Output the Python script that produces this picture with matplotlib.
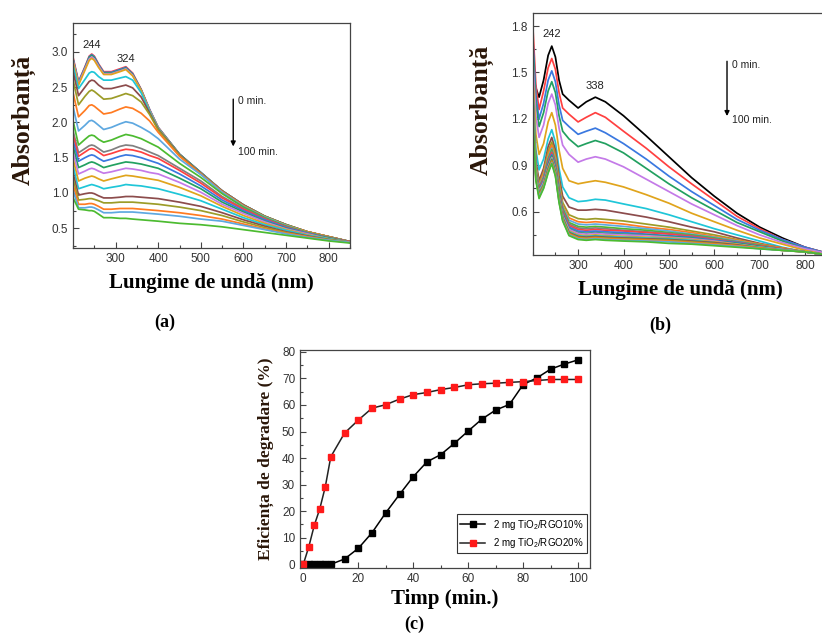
import matplotlib
matplotlib.use("Agg")
import matplotlib.pyplot as plt
from matplotlib.ticker import MultipleLocator

# ---------------- data ----------------
# Panel (a): UV-Vis spectra, 0 min (top) -> 100 min (bottom)
WL_A = [201, 213, 228, 238, 244, 250, 260, 272, 290, 310, 324, 340, 360, 380,
        400, 450, 500, 550, 600, 650, 700, 750, 800, 850]
ABS_A = [
    [2.90, 2.58, 2.79, 2.94, 2.97, 2.94, 2.83, 2.72, 2.72, 2.76, 2.79, 2.70, 2.47, 2.18, 1.93, 1.55, 1.29, 1.03, 0.83, 0.67, 0.55, 0.45, 0.38, 0.31],
    [2.88, 2.57, 2.78, 2.93, 2.96, 2.93, 2.82, 2.71, 2.71, 2.75, 2.78, 2.69, 2.46, 2.18, 1.93, 1.55, 1.29, 1.03, 0.83, 0.67, 0.55, 0.45, 0.38, 0.31],
    [2.87, 2.56, 2.77, 2.92, 2.95, 2.92, 2.81, 2.70, 2.70, 2.74, 2.77, 2.68, 2.46, 2.17, 1.92, 1.55, 1.29, 1.03, 0.83, 0.67, 0.55, 0.45, 0.38, 0.31],
    [2.86, 2.55, 2.76, 2.90, 2.93, 2.90, 2.80, 2.69, 2.69, 2.73, 2.76, 2.67, 2.45, 2.17, 1.92, 1.54, 1.28, 1.03, 0.83, 0.67, 0.55, 0.45, 0.38, 0.31],
    [2.84, 2.53, 2.74, 2.88, 2.91, 2.88, 2.78, 2.68, 2.68, 2.72, 2.75, 2.66, 2.45, 2.16, 1.92, 1.54, 1.28, 1.03, 0.83, 0.67, 0.55, 0.45, 0.38, 0.31],
    [2.78, 2.48, 2.61, 2.70, 2.72, 2.71, 2.65, 2.60, 2.60, 2.63, 2.65, 2.60, 2.42, 2.15, 1.91, 1.54, 1.28, 1.03, 0.83, 0.67, 0.55, 0.45, 0.38, 0.31],
    [2.70, 2.38, 2.50, 2.58, 2.60, 2.59, 2.53, 2.48, 2.48, 2.51, 2.53, 2.49, 2.36, 2.13, 1.90, 1.54, 1.28, 1.03, 0.83, 0.67, 0.55, 0.45, 0.38, 0.31],
    [2.58, 2.25, 2.37, 2.44, 2.46, 2.44, 2.39, 2.33, 2.34, 2.38, 2.41, 2.38, 2.29, 2.11, 1.89, 1.53, 1.27, 1.02, 0.82, 0.67, 0.55, 0.45, 0.38, 0.31],
    [2.40, 2.08, 2.17, 2.24, 2.25, 2.23, 2.18, 2.12, 2.14, 2.19, 2.22, 2.20, 2.13, 2.02, 1.86, 1.52, 1.27, 1.02, 0.82, 0.66, 0.54, 0.45, 0.38, 0.31],
    [2.20, 1.88, 1.96, 2.02, 2.03, 2.01, 1.96, 1.90, 1.93, 1.98, 2.01, 1.99, 1.93, 1.86, 1.77, 1.48, 1.26, 1.01, 0.81, 0.66, 0.54, 0.44, 0.37, 0.31],
    [2.00, 1.68, 1.76, 1.81, 1.82, 1.81, 1.76, 1.72, 1.75, 1.80, 1.83, 1.81, 1.77, 1.71, 1.65, 1.42, 1.22, 0.99, 0.80, 0.65, 0.53, 0.44, 0.37, 0.31],
    [1.86, 1.57, 1.63, 1.67, 1.68, 1.67, 1.63, 1.58, 1.61, 1.66, 1.68, 1.67, 1.63, 1.58, 1.53, 1.35, 1.17, 0.95, 0.78, 0.64, 0.52, 0.43, 0.37, 0.31],
    [1.80, 1.52, 1.58, 1.62, 1.63, 1.62, 1.58, 1.53, 1.56, 1.60, 1.62, 1.61, 1.58, 1.53, 1.49, 1.32, 1.14, 0.93, 0.77, 0.63, 0.52, 0.43, 0.36, 0.31],
    [1.72, 1.45, 1.50, 1.53, 1.54, 1.53, 1.49, 1.45, 1.48, 1.52, 1.54, 1.53, 1.50, 1.46, 1.42, 1.27, 1.10, 0.90, 0.75, 0.62, 0.51, 0.43, 0.36, 0.30],
    [1.64, 1.36, 1.40, 1.43, 1.44, 1.43, 1.40, 1.36, 1.39, 1.42, 1.44, 1.43, 1.41, 1.38, 1.35, 1.21, 1.06, 0.87, 0.73, 0.60, 0.50, 0.42, 0.36, 0.30],
    [1.56, 1.27, 1.31, 1.34, 1.35, 1.34, 1.31, 1.28, 1.30, 1.33, 1.35, 1.34, 1.32, 1.29, 1.27, 1.15, 1.01, 0.84, 0.71, 0.59, 0.49, 0.42, 0.35, 0.30],
    [1.46, 1.17, 1.21, 1.23, 1.24, 1.23, 1.20, 1.17, 1.20, 1.23, 1.25, 1.24, 1.22, 1.20, 1.18, 1.08, 0.96, 0.81, 0.68, 0.57, 0.48, 0.41, 0.35, 0.30],
    [1.36, 1.06, 1.09, 1.11, 1.12, 1.11, 1.09, 1.06, 1.08, 1.10, 1.12, 1.11, 1.10, 1.08, 1.06, 0.98, 0.89, 0.77, 0.65, 0.55, 0.47, 0.40, 0.35, 0.30],
    [1.26, 0.97, 0.99, 1.00, 1.00, 0.99, 0.96, 0.93, 0.93, 0.94, 0.95, 0.95, 0.94, 0.93, 0.92, 0.87, 0.81, 0.72, 0.62, 0.53, 0.45, 0.39, 0.34, 0.30],
    [1.18, 0.90, 0.91, 0.92, 0.92, 0.91, 0.89, 0.86, 0.86, 0.87, 0.87, 0.87, 0.86, 0.85, 0.84, 0.80, 0.75, 0.68, 0.59, 0.51, 0.44, 0.38, 0.34, 0.30],
    [1.10, 0.84, 0.84, 0.85, 0.85, 0.84, 0.81, 0.77, 0.77, 0.78, 0.78, 0.78, 0.77, 0.76, 0.75, 0.72, 0.68, 0.63, 0.56, 0.49, 0.43, 0.38, 0.33, 0.30],
    [1.02, 0.79, 0.79, 0.80, 0.80, 0.79, 0.76, 0.72, 0.72, 0.73, 0.73, 0.73, 0.72, 0.71, 0.70, 0.67, 0.63, 0.60, 0.54, 0.48, 0.42, 0.37, 0.33, 0.30],
    [0.92, 0.77, 0.76, 0.75, 0.75, 0.74, 0.70, 0.65, 0.65, 0.64, 0.64, 0.63, 0.62, 0.61, 0.60, 0.57, 0.55, 0.52, 0.48, 0.44, 0.40, 0.36, 0.32, 0.29],
]

# Panel (b)
WL_B = [201, 207, 214, 224, 234, 242, 250, 258, 266, 280, 300, 318, 338, 360,
        400, 450, 500, 550, 600, 650, 700, 750, 800, 850]
ABS_B = [
    [1.48, 1.40, 1.34, 1.45, 1.61, 1.67, 1.60, 1.45, 1.36, 1.32, 1.27, 1.31, 1.34, 1.31, 1.22, 1.09, 0.955, 0.82, 0.70, 0.59, 0.50, 0.43, 0.37, 0.33],
    [1.76, 1.42, 1.26, 1.38, 1.53, 1.59, 1.52, 1.37, 1.27, 1.23, 1.18, 1.21, 1.24, 1.21, 1.12, 1.01, 0.89, 0.78, 0.675, 0.57, 0.49, 0.42, 0.37, 0.33],
    [1.68, 1.35, 1.20, 1.30, 1.45, 1.51, 1.44, 1.29, 1.19, 1.15, 1.10, 1.12, 1.14, 1.11, 1.04, 0.94, 0.83, 0.73, 0.64, 0.55, 0.48, 0.42, 0.37, 0.33],
    [1.62, 1.30, 1.15, 1.24, 1.38, 1.44, 1.37, 1.22, 1.12, 1.07, 1.02, 1.04, 1.06, 1.04, 0.98, 0.88, 0.78, 0.69, 0.61, 0.53, 0.47, 0.41, 0.36, 0.33],
    [1.55, 1.22, 1.08, 1.16, 1.30, 1.36, 1.29, 1.14, 1.03, 0.97, 0.92, 0.94, 0.955, 0.94, 0.89, 0.81, 0.73, 0.65, 0.58, 0.51, 0.45, 0.40, 0.36, 0.33],
    [1.45, 1.10, 0.97, 1.04, 1.18, 1.24, 1.16, 1.00, 0.88, 0.80, 0.78, 0.79, 0.80, 0.79, 0.76, 0.71, 0.655, 0.59, 0.535, 0.48, 0.43, 0.39, 0.35, 0.32],
    [1.35, 1.00, 0.87, 0.94, 1.07, 1.13, 1.05, 0.88, 0.76, 0.69, 0.665, 0.67, 0.68, 0.675, 0.65, 0.62, 0.58, 0.535, 0.49, 0.45, 0.41, 0.37, 0.34, 0.32],
    [1.30, 0.93, 0.80, 0.88, 1.02, 1.08, 1.00, 0.83, 0.70, 0.63, 0.61, 0.61, 0.615, 0.61, 0.59, 0.565, 0.535, 0.50, 0.47, 0.43, 0.395, 0.365, 0.34, 0.32],
    [1.28, 0.90, 0.78, 0.86, 0.99, 1.05, 0.97, 0.80, 0.66, 0.58, 0.555, 0.55, 0.555, 0.55, 0.54, 0.52, 0.50, 0.475, 0.45, 0.42, 0.39, 0.365, 0.34, 0.32],
    [1.27, 0.89, 0.77, 0.85, 0.97, 1.03, 0.95, 0.78, 0.64, 0.56, 0.535, 0.53, 0.535, 0.53, 0.52, 0.50, 0.485, 0.465, 0.44, 0.415, 0.39, 0.365, 0.34, 0.32],
    [1.26, 0.88, 0.76, 0.83, 0.95, 1.01, 0.93, 0.76, 0.63, 0.545, 0.52, 0.515, 0.52, 0.515, 0.505, 0.49, 0.475, 0.455, 0.435, 0.41, 0.385, 0.36, 0.34, 0.32],
    [1.25, 0.87, 0.755, 0.82, 0.94, 1.00, 0.92, 0.75, 0.62, 0.53, 0.505, 0.50, 0.505, 0.50, 0.49, 0.48, 0.465, 0.45, 0.43, 0.405, 0.385, 0.36, 0.34, 0.32],
    [1.25, 0.86, 0.75, 0.81, 0.93, 0.99, 0.91, 0.74, 0.61, 0.52, 0.495, 0.49, 0.495, 0.49, 0.48, 0.47, 0.46, 0.445, 0.425, 0.405, 0.38, 0.36, 0.34, 0.32],
    [1.24, 0.86, 0.745, 0.81, 0.92, 0.98, 0.90, 0.73, 0.60, 0.51, 0.485, 0.48, 0.485, 0.48, 0.475, 0.465, 0.455, 0.44, 0.42, 0.40, 0.38, 0.36, 0.34, 0.32],
    [1.24, 0.85, 0.74, 0.80, 0.91, 0.97, 0.89, 0.72, 0.59, 0.50, 0.475, 0.47, 0.475, 0.47, 0.465, 0.455, 0.445, 0.435, 0.415, 0.40, 0.375, 0.355, 0.34, 0.32],
    [1.23, 0.85, 0.735, 0.79, 0.90, 0.96, 0.88, 0.71, 0.58, 0.49, 0.465, 0.46, 0.465, 0.46, 0.455, 0.45, 0.44, 0.43, 0.41, 0.395, 0.375, 0.355, 0.34, 0.32],
    [1.23, 0.84, 0.73, 0.79, 0.89, 0.95, 0.87, 0.70, 0.575, 0.485, 0.46, 0.455, 0.46, 0.455, 0.45, 0.445, 0.435, 0.425, 0.41, 0.39, 0.37, 0.355, 0.34, 0.32],
    [1.22, 0.84, 0.725, 0.78, 0.885, 0.945, 0.865, 0.695, 0.57, 0.475, 0.45, 0.445, 0.45, 0.445, 0.44, 0.435, 0.43, 0.42, 0.405, 0.39, 0.37, 0.355, 0.34, 0.32],
    [1.22, 0.83, 0.72, 0.78, 0.88, 0.94, 0.86, 0.69, 0.565, 0.47, 0.445, 0.44, 0.445, 0.44, 0.435, 0.43, 0.425, 0.415, 0.40, 0.385, 0.37, 0.355, 0.34, 0.32],
    [1.21, 0.83, 0.715, 0.77, 0.875, 0.935, 0.855, 0.685, 0.56, 0.465, 0.44, 0.435, 0.44, 0.435, 0.43, 0.425, 0.42, 0.41, 0.40, 0.385, 0.365, 0.35, 0.34, 0.32],
    [1.21, 0.82, 0.71, 0.77, 0.87, 0.93, 0.85, 0.68, 0.555, 0.46, 0.435, 0.43, 0.435, 0.43, 0.425, 0.42, 0.415, 0.405, 0.395, 0.38, 0.365, 0.35, 0.34, 0.32],
    [1.20, 0.81, 0.70, 0.76, 0.86, 0.92, 0.84, 0.67, 0.55, 0.455, 0.43, 0.425, 0.43, 0.425, 0.42, 0.415, 0.41, 0.40, 0.39, 0.38, 0.365, 0.35, 0.34, 0.32],
    [1.20, 0.81, 0.695, 0.755, 0.855, 0.915, 0.835, 0.665, 0.545, 0.45, 0.425, 0.42, 0.425, 0.42, 0.415, 0.41, 0.405, 0.395, 0.385, 0.375, 0.36, 0.35, 0.34, 0.32],
    [1.19, 0.80, 0.685, 0.75, 0.85, 0.91, 0.83, 0.66, 0.54, 0.445, 0.42, 0.415, 0.42, 0.415, 0.41, 0.405, 0.395, 0.39, 0.38, 0.37, 0.36, 0.35, 0.34, 0.32],
]

# Panel (c): degradation efficiency
TIME = [0, 2, 4, 6, 8, 10, 15, 20, 25, 30, 35, 40, 45, 50, 55, 60, 65, 70, 75, 80, 85, 90, 95, 100]
EFF_RGO10 = [0, 0, 0, 0, 0, 0, 2.0, 6.0, 11.9, 19.4, 26.3, 33.0, 38.6, 41.3, 45.6,
             50.2, 54.7, 58.1, 60.2, 67.7, 70.2, 73.5, 75.4, 77.0]
EFF_RGO20 = [0, 6.6, 14.7, 20.9, 29.2, 40.5, 49.4, 54.3, 58.8, 60.1, 62.2, 63.9, 64.7,
             65.8, 66.6, 67.6, 68.0, 68.2, 68.5, 68.8, 69.2, 69.6, 69.6, 69.6]
LABELS_C = ["2 mg TiO$_2$/RGO10%", "2 mg TiO$_2$/RGO20%"]

# ---------------- style ----------------
CYCLE = ['#ff4040', '#3a78e0', '#22a060', '#c47ae8', '#e0a41c', '#1fc6d8',
         '#8c4c4c', '#9c9c28', '#ff7b22', '#5ea8e0', '#4cbb30', '#808080']
COL_A = [CYCLE[i % 12] for i in range(len(ABS_A))]
COL_B = ['#000000'] + [CYCLE[i % 12] for i in range(len(ABS_B) - 1)]

TICK_COL = '#333333'
LABEL_COL = '#2a1608'
SERIF = ['Liberation Serif', 'DejaVu Serif']
SANS = ['Liberation Sans', 'DejaVu Sans']
plt.rcParams['font.family'] = SANS
plt.rcParams['mathtext.fontset'] = 'custom'
plt.rcParams['mathtext.rm'] = 'Liberation Sans'
plt.rcParams['mathtext.it'] = 'Liberation Sans'

fig = plt.figure(figsize=(8.22, 6.35), dpi=100)
W, H = 822.0, 635.0


def add_axes(l, t, r, b):
    return fig.add_axes([l / W, 1 - b / H, (r - l) / W, (b - t) / H])


def style(ax):
    for s in ax.spines.values():
        s.set_color('#444444')
        s.set_linewidth(0.9)
    ax.tick_params(which='both', direction='in', colors='#444444', labelcolor=TICK_COL,
                   labelsize=8.5, width=0.8)
    ax.tick_params(which='major', length=4)
    ax.tick_params(which='minor', length=2)


# ---------- panel (a) ----------
axa = add_axes(73, 23, 350, 248)
for row, c in zip(ABS_A, COL_A):
    axa.plot(WL_A, row, color=c, lw=1.25)
axa.set_xlim(200, 850)
axa.set_ylim(0.22, 3.41)
axa.set_xticks([300, 400, 500, 600, 700, 800])
axa.xaxis.set_minor_locator(MultipleLocator(50))
axa.set_yticks([0.5, 1.0, 1.5, 2.0, 2.5, 3.0])
axa.yaxis.set_minor_locator(MultipleLocator(0.25))
style(axa)
axa.set_xlabel('Lungime de undă (nm)', family=SERIF, weight='bold', fontsize=15, labelpad=6)
axa.set_ylabel('Absorbanță', family=SERIF, weight='bold', fontsize=18.5, color=LABEL_COL)
axa.yaxis.set_label_coords(-0.134, 0.57)
axa.text(244, 3.10, '244', fontsize=8, ha='center', va='center', color='#222222')
axa.text(324, 2.90, '324', fontsize=8, ha='center', va='center', color='#222222')
axa.annotate('', xy=(576, 1.62), xytext=(576, 2.37),
             arrowprops=dict(arrowstyle='-|>', color='black', lw=1.0, mutation_scale=7))
axa.text(588, 2.30, '0 min.', fontsize=7.5, ha='left', va='center', color='#222222')
axa.text(588, 1.58, '100 min.', fontsize=7.5, ha='left', va='center', color='#222222')
fig.text(165 / W, 1 - 322 / H, '(a)', family=SERIF, weight='bold', fontsize=13,
         ha='center', va='center')

# ---------- panel (b) ----------
axb = add_axes(532.7, 12.7, 827.8, 255)
for row, c in zip(ABS_B, COL_B):
    axb.plot(WL_B, row, color=c, lw=1.25)
axb.set_xlim(200, 850)
axb.set_ylim(0.32, 1.886)
axb.set_xticks([300, 400, 500, 600, 700, 800])
axb.xaxis.set_minor_locator(MultipleLocator(50))
axb.set_yticks([0.6, 0.9, 1.2, 1.5, 1.8])
axb.yaxis.set_minor_locator(MultipleLocator(0.15))
style(axb)
axb.set_xlabel('Lungime de undă (nm)', family=SERIF, weight='bold', fontsize=15, labelpad=6)
axb.set_ylabel('Absorbanță', family=SERIF, weight='bold', fontsize=18.5, color=LABEL_COL)
axb.yaxis.set_label_coords(-0.131, 0.60)
axb.text(242, 1.746, '242', fontsize=8, ha='center', va='center', color='#222222')
axb.text(338, 1.412, '338', fontsize=8, ha='center', va='center', color='#222222')
axb.annotate('', xy=(628, 1.20), xytext=(628, 1.59),
             arrowprops=dict(arrowstyle='-|>', color='black', lw=1.0, mutation_scale=7))
axb.text(639, 1.548, '0 min.', fontsize=7.5, ha='left', va='center', color='#222222')
axb.text(639, 1.19, '100 min.', fontsize=7.5, ha='left', va='center', color='#222222')
fig.text(660 / W, 1 - 325 / H, '(b)', family=SERIF, weight='bold', fontsize=13,
         ha='center', va='center')

# ---------- panel (c) ----------
axc = add_axes(300, 350, 590, 568.3)
axc.plot(TIME, EFF_RGO10, color='black', lw=1.1, marker='s', ms=4.3,
         mfc='black', mec='black', label=LABELS_C[0])
axc.plot(TIME, EFF_RGO20, color='#222222', lw=1.1, marker='s', ms=4.3,
         mfc='#ff1a1a', mec='#ff1a1a', label=LABELS_C[1])
axc.set_xlim(-1.2, 104.3)
axc.set_ylim(-1.5, 80.7)
axc.set_xticks([0, 20, 40, 60, 80, 100])
axc.xaxis.set_minor_locator(MultipleLocator(10))
axc.set_yticks(range(0, 81, 10))
axc.yaxis.set_minor_locator(MultipleLocator(5))
style(axc)
axc.set_xlabel('Timp (min.)', family=SERIF, weight='bold', fontsize=15, labelpad=3)
axc.set_ylabel('Eficiența de degradare (%)', family=SERIF, weight='bold', fontsize=12.5,
               color=LABEL_COL, labelpad=6)
leg = axc.legend(loc='lower right', bbox_to_anchor=(0.99, 0.068), fontsize=7,
                 frameon=True, fancybox=False, edgecolor='#333333', framealpha=1,
                 handlelength=2.6, borderpad=0.35, labelspacing=0.45, handletextpad=0.8,
                 borderaxespad=0.0)
leg.get_frame().set_linewidth(0.8)
fig.text(414 / W, 1 - 624 / H, '(c)', family=SERIF, weight='bold', fontsize=13,
         ha='center', va='center')

fig.savefig('out.png', dpi=100)
